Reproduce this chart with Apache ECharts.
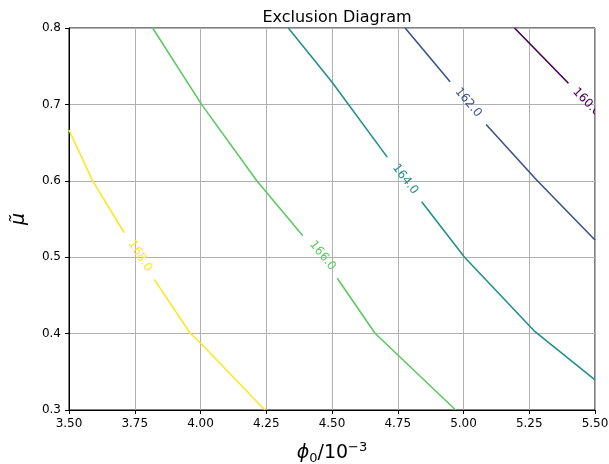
<!DOCTYPE html>
<html><head><meta charset="utf-8">
<script src="https://cdn.jsdelivr.net/npm/echarts@6/dist/echarts.min.js"></script>
<style>html,body{margin:0;padding:0;background:#fff}#c{width:609px;height:464px}</style>
</head><body><div id="c"></div>
<script>
// Contour levels and viridis colours
const levels = [160, 162, 164, 166, 168];
const levelColors = ['#440154', '#3b528b', '#21918c', '#5ec962', '#fde725'];
const labelTexts = ['160.0', '162.0', '164.0', '166.0', '168.0'];

// Axis ranges / ticks
const xRange = [3.5, 5.5];
const xStep = 0.25;
const yRange = [0.3, 0.8];
const yStep = 0.1;

// Contour paths (segments separated by inline label gaps), [phi0, mu]
const contour160 = [[[5.194, 0.8], [5.399, 0.7276]]];
const contour162 = [
  [[4.778, 0.8], [4.949, 0.7297]],
  [[5.086, 0.6738], [5.278, 0.601], [5.5, 0.5225]]
];
const contour164 = [
  [[4.334, 0.8], [4.499, 0.7297], [4.710, 0.631]],
  [[4.841, 0.5727], [5.004, 0.5], [5.272, 0.4025], [5.5, 0.3393]]
];
const contour166 = [
  [[3.818, 0.8], [4.004, 0.7], [4.214, 0.6], [4.389, 0.528]],
  [[4.520, 0.4724], [4.6635, 0.4004], [4.970, 0.3]]
];
const contour168 = [
  [[3.5, 0.6665], [3.590, 0.6], [3.710, 0.532]],
  [[3.824, 0.471], [3.961, 0.4004], [4.0045, 0.386], [4.245, 0.3]]
];
const contours = [contour160, contour162, contour164, contour166, contour168];

// Inline label anchor points
const labelAnchors = [[5.468, 0.703], [5.018, 0.7025], [4.778, 0.602], [4.464, 0.502], [3.770, 0.5016]];

const FONT = '"DejaVu Sans", sans-serif';

const series = [];
contours.forEach((segs, i) => {
  segs.forEach(seg => {
    series.push({
      type: 'line', data: seg, symbol: 'none', silent: true, animation: false,
      lineStyle: { color: levelColors[i], width: 1.6 }, z: 3, clip: true
    });
  });
});

// label data: anchor + direction points
const labelData = contours.map((segs, i) => {
  let a, b;
  if (segs.length > 1) { a = segs[0][segs[0].length - 1]; b = segs[1][0]; }
  else { a = segs[0][0]; b = segs[0][segs[0].length - 1]; }
  return [labelAnchors[i][0], labelAnchors[i][1], a[0], a[1], b[0], b[1], i];
});

series.push({
  type: 'custom', clip: true, z: 4, silent: true, animation: false,
  encode: { x: 0, y: 1 },
  data: labelData,
  renderItem: function (params, api) {
    const p = api.coord([api.value(0), api.value(1)]);
    const a = api.coord([api.value(2), api.value(3)]);
    const b = api.coord([api.value(4), api.value(5)]);
    const idx = api.value(6);
    const ang = Math.atan2(b[1] - a[1], b[0] - a[0]);
    return {
      type: 'text', x: p[0], y: p[1], rotation: -ang,
      style: { text: labelTexts[idx], fill: levelColors[idx], font: '12px ' + FONT, align: 'center', verticalAlign: 'middle' }
    };
  }
});

const chart = echarts.init(document.getElementById('c'), null, { renderer: 'canvas' });
chart.setOption({
  animation: false,
  backgroundColor: '#fff',
  title: {
    text: 'Exclusion Diagram', left: 332, top: 5, textAlign: 'center',
    textStyle: { fontFamily: FONT, fontSize: 16, fontWeight: 'normal', color: '#000' }
  },
  grid: { left: 69, right: 14, top: 28, bottom: 54, outerBoundsMode: 'none', containLabel: false, show: true, borderColor: '#000', borderWidth: 1, backgroundColor: 'transparent' },
  xAxis: {
    type: 'value', min: xRange[0], max: xRange[1], interval: xStep,
    name: '{phi|ϕ}{sub|0}{n|/10}{sup|−3}', nameLocation: 'middle', nameGap: 31,
    nameTextStyle: {
      color: '#000', fontFamily: FONT,
      rich: {
        phi: { fontSize: 19, fontStyle: 'italic', fontFamily: FONT, lineHeight: 24, verticalAlign: 'middle' },
        sub: { fontSize: 13, fontFamily: FONT, lineHeight: 18, verticalAlign: 'bottom' },
        n: { fontSize: 19, fontFamily: FONT, lineHeight: 24, verticalAlign: 'middle' },
        sup: { fontSize: 13, fontFamily: FONT, lineHeight: 13, verticalAlign: 'top' }
      }
    },
    axisLine: { onZero: false, lineStyle: { color: '#000', width: 1 } },
    axisTick: { show: true, inside: false, length: 4, lineStyle: { color: '#000' } },
    axisLabel: { color: '#000', fontFamily: FONT, fontSize: 12, margin: 8, formatter: v => v.toFixed(2) },
    splitLine: { show: true, lineStyle: { color: '#b0b0b0', width: 1 } }
  },
  yAxis: {
    type: 'value', min: yRange[0], max: yRange[1], interval: yStep,
    name: 'μ̃', nameLocation: 'middle', nameGap: 40, nameRotate: 90,
    nameTextStyle: { color: '#000', fontFamily: FONT, fontSize: 19, fontStyle: 'italic' },
    axisLine: { onZero: false, lineStyle: { color: '#000', width: 1 } },
    axisTick: { show: true, inside: false, length: 4, lineStyle: { color: '#000' } },
    axisLabel: { color: '#000', fontFamily: FONT, fontSize: 12, margin: 8, formatter: v => v.toFixed(1) },
    splitLine: { show: true, lineStyle: { color: '#b0b0b0', width: 1 } }
  },
  series: series
});
</script></body></html>
